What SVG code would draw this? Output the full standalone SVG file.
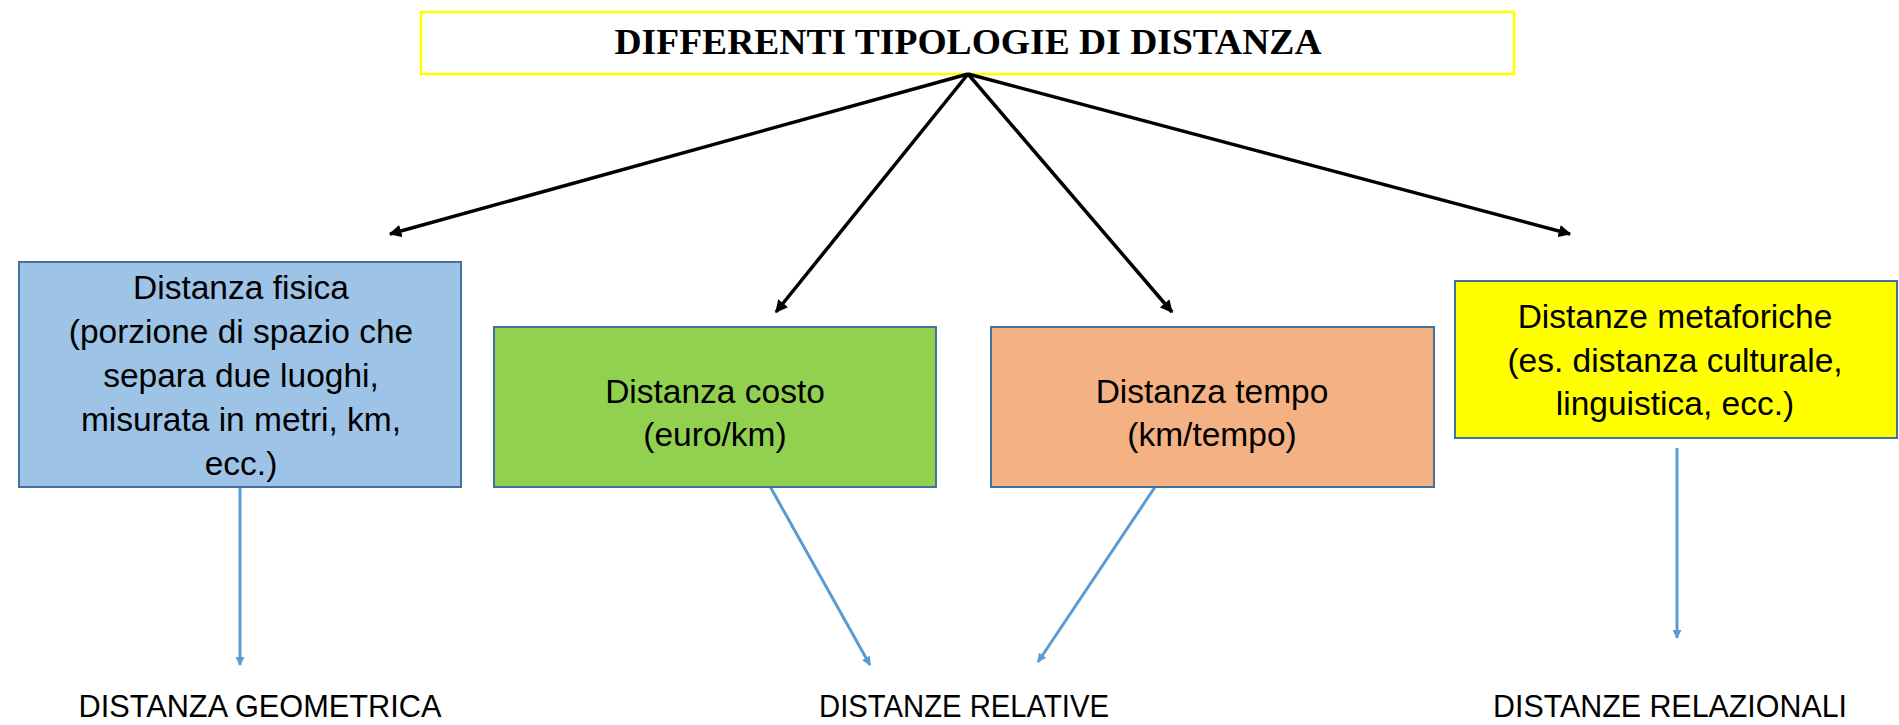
<svg xmlns="http://www.w3.org/2000/svg" width="1899" height="725" viewBox="0 0 1899 725">
<defs>
<style>
.box{stroke:#41719C;stroke-width:2}
.t{font-family:"Liberation Sans",Arial,sans-serif;font-size:33.5px;fill:#000;text-anchor:middle}
.lbl{font-family:"Liberation Sans",Arial,sans-serif;font-size:31px;fill:#000;text-anchor:middle}
.title{font-family:"Liberation Serif","Times New Roman",serif;font-weight:bold;font-size:36px;fill:#000;text-anchor:middle}
.blk{stroke:#000;stroke-width:3.5;fill:none;marker-end:url(#ah)}
.blu{stroke:#5B9BD5;stroke-width:3;fill:none;marker-end:url(#bh)}
</style>
<marker id="ah" viewBox="0 0 10 10" refX="9" refY="5" markerWidth="3.6" markerHeight="3.6" orient="auto" markerUnits="strokeWidth">
<path d="M0,0 L10,5 L0,10 z" fill="#000"/>
</marker>
<marker id="bh" viewBox="0 0 10 10" refX="9" refY="5" markerWidth="5" markerHeight="3" orient="auto" markerUnits="strokeWidth">
<path d="M0,0 L10,5 L0,10 z" fill="#5B9BD5"/>
</marker>
</defs>
<rect width="1899" height="725" fill="#fff"/>
<g id="title">
<rect x="421" y="12" width="1093" height="62" fill="#fff" stroke="#FFFF00" stroke-width="2.5"/>
<text class="title" x="968" y="54" textLength="707" lengthAdjust="spacingAndGlyphs">DIFFERENTI TIPOLOGIE DI DISTANZA</text>
</g>
<g id="connectors">
<line class="blk" x1="968" y1="74" x2="390" y2="234"/>
<line class="blk" x1="968" y1="74" x2="776" y2="312"/>
<line class="blk" x1="968" y1="74" x2="1172" y2="312"/>
<line class="blk" x1="968" y1="74" x2="1570" y2="234"/>
<line class="blu" x1="240" y1="487" x2="240" y2="665"/>
<line class="blu" x1="767" y1="481" x2="870" y2="665"/>
<line class="blu" x1="1159" y1="481" x2="1038" y2="662"/>
<line class="blu" x1="1677" y1="448" x2="1677" y2="638"/>
</g>
<g id="fisica">
<rect class="box" x="19" y="262" width="442" height="225" fill="#9DC3E6"/>
<text class="t" x="241" y="299">Distanza fisica</text>
<text class="t" x="241" y="343">(porzione di spazio che</text>
<text class="t" x="241" y="387">separa due luoghi,</text>
<text class="t" x="241" y="431">misurata in metri, km,</text>
<text class="t" x="241" y="475">ecc.)</text>
</g>
<g id="costo">
<rect class="box" x="494" y="327" width="442" height="160" fill="#92D050"/>
<text class="t" x="715" y="403">Distanza costo</text>
<text class="t" x="715" y="446">(euro/km)</text>
</g>
<g id="tempo">
<rect class="box" x="991" y="327" width="443" height="160" fill="#F4B183"/>
<text class="t" x="1212" y="403">Distanza tempo</text>
<text class="t" x="1212" y="446">(km/tempo)</text>
</g>
<g id="metaforiche">
<rect class="box" x="1455" y="281" width="442" height="157" fill="#FFFF00"/>
<text class="t" x="1675" y="328">Distanze metaforiche</text>
<text class="t" x="1675" y="372">(es. distanza culturale,</text>
<text class="t" x="1675" y="415">linguistica, ecc.)</text>
</g>
<g id="labels">
<text class="lbl" x="260" y="717" textLength="363" lengthAdjust="spacingAndGlyphs">DISTANZA GEOMETRICA</text>
<text class="lbl" x="964" y="717" textLength="290" lengthAdjust="spacingAndGlyphs">DISTANZE RELATIVE</text>
<text class="lbl" x="1670" y="717" textLength="354" lengthAdjust="spacingAndGlyphs">DISTANZE RELAZIONALI</text>
</g>
</svg>
